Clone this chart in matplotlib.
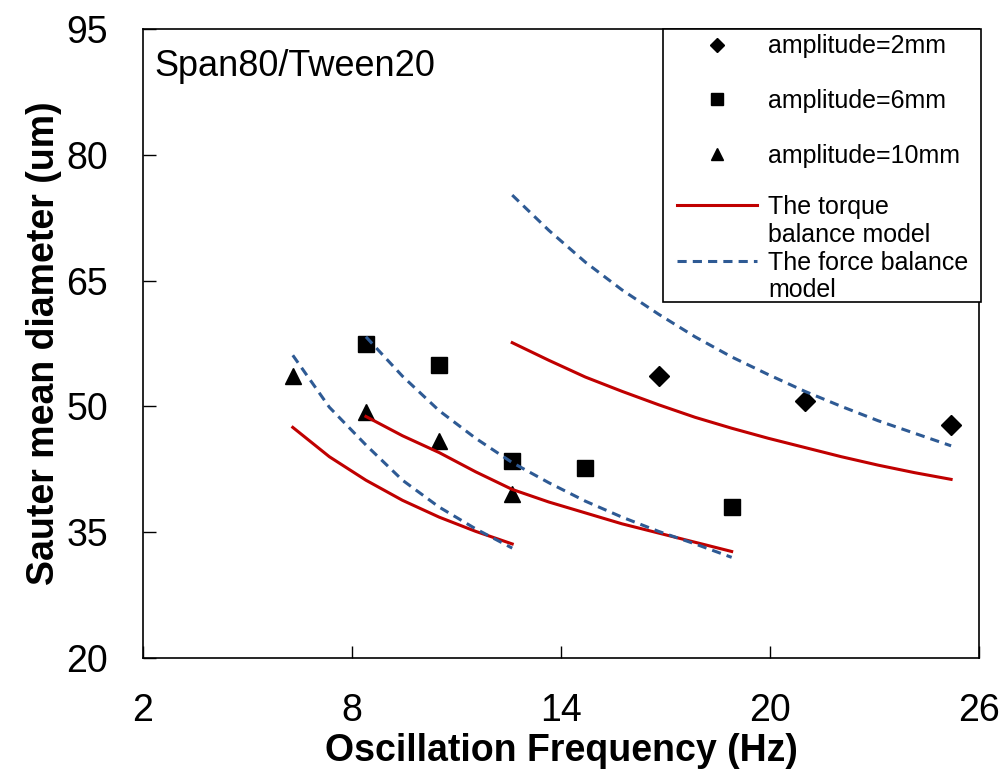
import matplotlib.pyplot as plt
from matplotlib.lines import Line2D
from matplotlib.patches import Rectangle

plt.rcParams['font.family'] = 'Liberation Sans'

# measured points
freq_2mm = [16.8, 21.0, 25.2]
d_2mm = [53.6, 50.6, 47.8]
freq_6mm = [8.4, 10.5, 12.6, 14.7, 18.9]
d_6mm = [57.5, 54.9, 43.5, 42.7, 38.0]
freq_10mm = [6.3, 8.4, 10.5, 12.6]
d_10mm = [53.6, 49.3, 45.9, 39.6]

# model curves
f_m10 = [6.3, 7.35, 8.4, 9.45, 10.5, 11.55, 12.6]
torque_10 = [47.5, 44.0, 41.2, 38.8, 36.8, 35.1, 33.6]
force_10 = [56.1, 49.9, 45.4, 41.2, 38.0, 35.4, 33.1]

f_m6 = [8.4, 9.45, 10.5, 11.55, 12.6, 13.65, 14.7, 15.75, 16.8, 17.85, 18.9]
torque_6 = [48.8, 46.5, 44.5, 42.2, 40.1, 38.6, 37.3, 36.0, 34.9, 33.8, 32.7]
force_6 = [58.3, 53.6, 49.5, 46.2, 43.3, 40.9, 38.7, 36.8, 35.1, 33.6, 32.0]

f_m2 = [12.6, 13.65, 14.7, 15.75, 16.8, 17.85, 18.9, 19.95, 21.0, 22.05, 23.1, 24.15, 25.2]
torque_2 = [57.6, 55.5, 53.5, 51.8, 50.2, 48.7, 47.4, 46.2, 45.1, 44.0, 43.0, 42.1, 41.3]
force_2 = [75.2, 71.0, 67.2, 63.9, 61.0, 58.3, 55.9, 53.8, 51.8, 50.0, 48.3, 46.8, 45.3]

red = '#C00000'
blue = '#2E5A94'
dash = (0, (3, 2))

fig = plt.figure(figsize=(10.05, 7.75), dpi=100)
ax = fig.add_axes([0.1423, 0.151, 0.8318, 0.8115])

h2, = ax.plot(freq_2mm, d_2mm, 'D', color='black', markersize=10, ls='none')
h6, = ax.plot(freq_6mm, d_6mm, 's', color='black', markersize=12, ls='none')
h10, = ax.plot(freq_10mm, d_10mm, '^', color='black', markersize=12, ls='none')

ht, = ax.plot(f_m10, torque_10, color=red, lw=2.2)
ax.plot(f_m6, torque_6, color=red, lw=2.2)
ax.plot(f_m2, torque_2, color=red, lw=2.2)
hf, = ax.plot(f_m10, force_10, color=blue, lw=2.2, ls=dash)
ax.plot(f_m6, force_6, color=blue, lw=2.2, ls=dash)
ax.plot(f_m2, force_2, color=blue, lw=2.2, ls=dash)

ax.set_xlim(2, 26)
ax.set_ylim(20, 95)
ax.set_xticks([2, 8, 14, 20, 26])
ax.set_yticks([20, 35, 50, 65, 80, 95])
ax.tick_params(direction='in', length=9, width=1, labelsize=27)
ax.tick_params(axis='x', pad=25)
ax.tick_params(axis='y', pad=25)
for s in ax.spines.values():
    s.set_linewidth(1.2)

ax.set_xlabel('Oscillation Frequency (Hz)', fontsize=27, fontweight='bold', labelpad=3)
ax.set_ylabel('Sauter mean diameter (um)', fontsize=27, fontweight='bold', labelpad=3)

ax.text(0.014, 0.968, 'Span80/Tween20', transform=ax.transAxes, fontsize=26, va='top')

# legend box drawn by hand, entries in two frameless legends
box = Rectangle((0.622, 0.566), 0.3804, 0.434, transform=ax.transAxes,
                facecolor='white', edgecolor='black', lw=1.2, clip_on=False, zorder=5)
ax.add_patch(box)

blank = Line2D([], [], color='none')
leg1 = ax.legend([h2, h6, h10], ['amplitude=2mm', 'amplitude=6mm', 'amplitude=10mm'],
                 loc='upper left', bbox_to_anchor=(0.6388, 0.9916), borderaxespad=0,
                 borderpad=0, frameon=False, fontsize=18, markerscale=0.7,
                 handlelength=3.2, handletextpad=0.44, labelspacing=1.23)
leg1.set_zorder(6)
ax.add_artist(leg1)
leg2 = ax.legend([ht, blank, hf, blank],
                 ['The torque', 'balance model', 'The force balance', 'model'],
                 loc='upper left', bbox_to_anchor=(0.6388, 0.736), borderaxespad=0,
                 borderpad=0, frameon=False, fontsize=18,
                 handlelength=3.2, handletextpad=0.44, labelspacing=0.15)
leg2.set_zorder(6)

fig.savefig('out.png', dpi=100)
